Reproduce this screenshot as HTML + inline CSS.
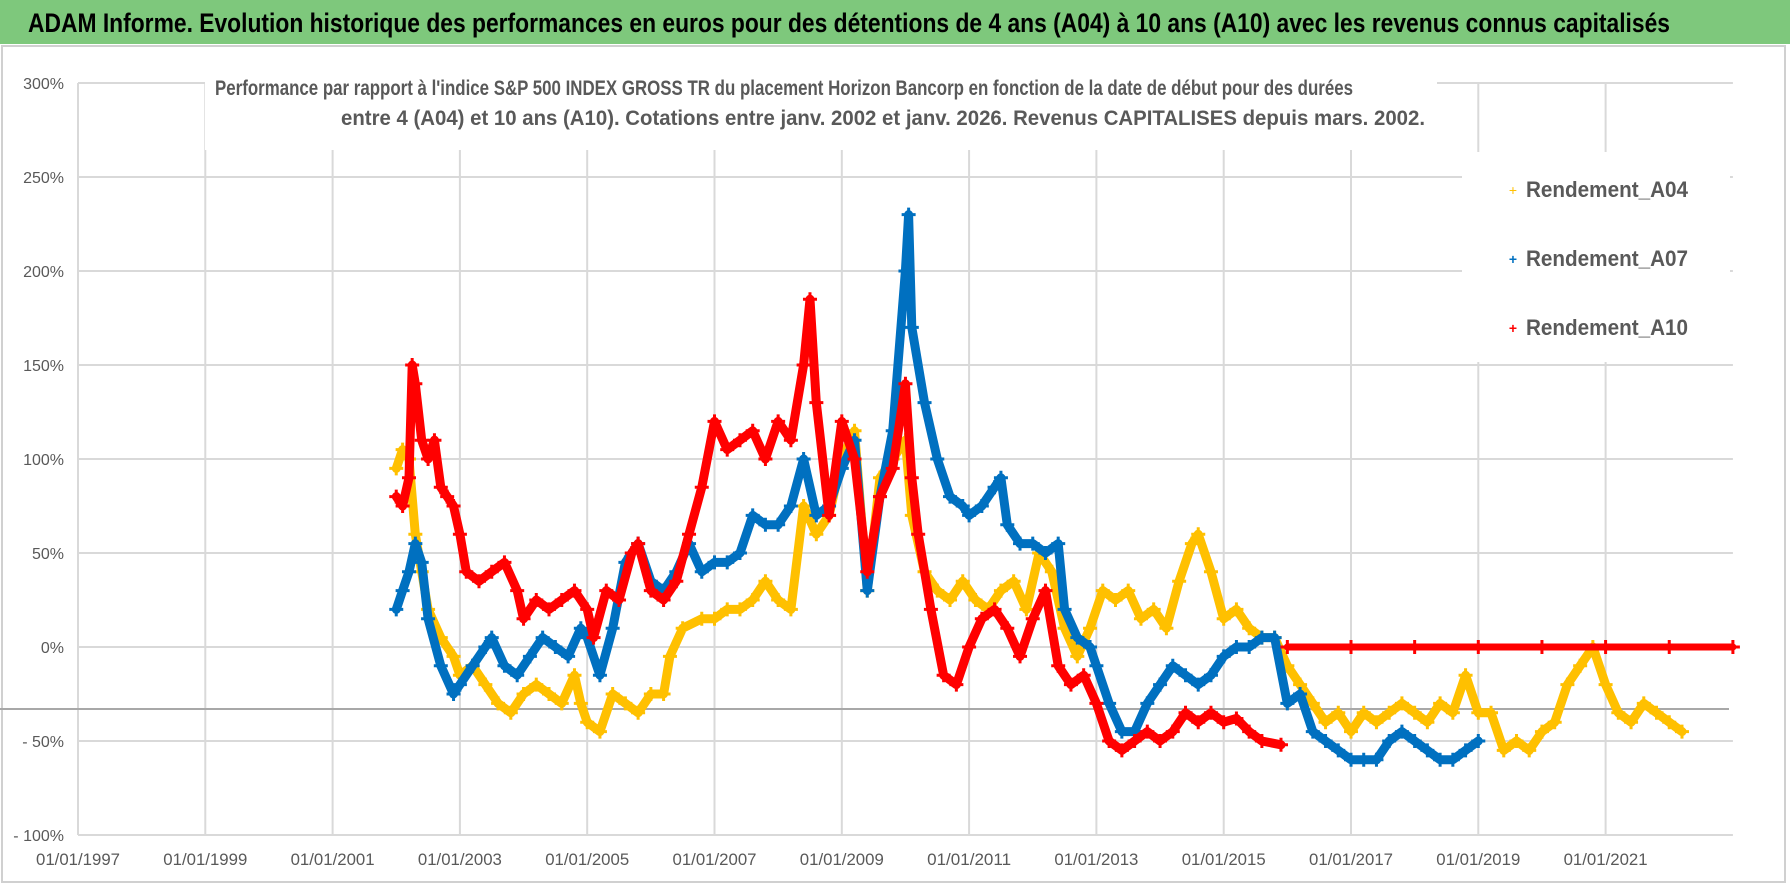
<!DOCTYPE html>
<html><head><meta charset="utf-8"><style>
html,body{margin:0;padding:0;background:#fff;}
svg{display:block;font-family:"Liberation Sans",sans-serif;}
</style></head><body>
<svg id="chart" width="1790" height="886" viewBox="0 0 1790 886" xmlns="http://www.w3.org/2000/svg">
<rect x="0" y="0" width="1790" height="886" fill="#fff"/>
<rect x="0" y="0" width="1790" height="44" fill="#7ec87c"/>
<text x="28" y="32" font-size="27" font-weight="bold" fill="#000" textLength="1642" lengthAdjust="spacingAndGlyphs">ADAM Informe. Evolution historique des performances en euros pour des détentions de 4 ans (A04) à 10 ans (A10) avec les revenus connus capitalisés</text>
<rect x="2" y="46" width="1783" height="836" fill="none" stroke="#d0d0d0" stroke-width="2"/>
<g id="grid"></g>
<line x1="0" y1="709" x2="1729" y2="709" stroke="#a8a8a8" stroke-width="2"/>
<rect x="205" y="68" width="1232" height="82" fill="#fff"/>
<text x="215" y="95" font-size="21" font-weight="bold" fill="#595959" textLength="1138" lengthAdjust="spacingAndGlyphs">Performance par rapport à l'indice S&amp;P 500 INDEX GROSS TR  du placement Horizon Bancorp en fonction de la date de début pour des durées</text>
<text x="341" y="125" font-size="21" font-weight="bold" fill="#595959" textLength="1084" lengthAdjust="spacingAndGlyphs">entre 4 (A04) et 10 ans (A10). Cotations entre janv. 2002 et janv. 2026. Revenus CAPITALISES depuis mars. 2002.</text>
<rect x="1462" y="152" width="268" height="210" fill="#fff"/>
<g id="series"></g>
<g id="axes"></g>
<g>
<g><text x="1513" y="195" font-size="14" fill="#ffc000" text-anchor="middle">+</text><text x="1526" y="197" font-size="22" font-weight="bold" fill="#595959" textLength="162" lengthAdjust="spacingAndGlyphs">Rendement_A04</text></g>
<g><text x="1513" y="264" font-size="14" font-weight="bold" fill="#0070c0" text-anchor="middle">+</text><text x="1526" y="266" font-size="22" font-weight="bold" fill="#595959" textLength="162" lengthAdjust="spacingAndGlyphs">Rendement_A07</text></g>
<g><text x="1513" y="333" font-size="14" font-weight="bold" fill="#ff0000" text-anchor="middle">+</text><text x="1526" y="335" font-size="22" font-weight="bold" fill="#595959" textLength="162" lengthAdjust="spacingAndGlyphs">Rendement_A10</text></g>
</g>
</svg>
<script>
const yTicks = [300, 250, 200, 150, 100, 50, 0, -50, -100];
const yTickLabels = ["300%", "250%", "200%", "150%", "100%", "50%", "0%", "- 50%", "- 100%"];
const xTicks = [1997, 1999, 2001, 2003, 2005, 2007, 2009, 2011, 2013, 2015, 2017, 2019, 2021];
const xTickLabels = ["01/01/1997","01/01/1999","01/01/2001","01/01/2003","01/01/2005","01/01/2007","01/01/2009","01/01/2011","01/01/2013","01/01/2015","01/01/2017","01/01/2019","01/01/2021"];

const datesA10 = [2002.0,2002.1,2002.2,2002.25,2002.3,2002.4,2002.5,2002.6,2002.7,2002.8,2002.9,2003.0,2003.1,2003.3,2003.5,2003.7,2003.9,2004.0,2004.2,2004.4,2004.6,2004.8,2005.0,2005.1,2005.3,2005.5,2005.7,2005.8,2006.0,2006.2,2006.4,2006.6,2006.8,2007.0,2007.2,2007.4,2007.6,2007.8,2008.0,2008.2,2008.4,2008.5,2008.6,2008.8,2009.0,2009.2,2009.4,2009.6,2009.8,2010.0,2010.1,2010.2,2010.4,2010.6,2010.8,2011.0,2011.2,2011.4,2011.6,2011.8,2012.0,2012.2,2012.4,2012.6,2012.8,2013.0,2013.2,2013.4,2013.6,2013.8,2014.0,2014.2,2014.4,2014.6,2014.8,2015.0,2015.2,2015.4,2015.6,2015.9];
const valuesA10 = [80,75,90,150,140,110,100,110,85,80,75,60,40,35,40,45,30,15,25,20,25,30,20,5,30,25,50,55,30,25,35,60,85,120,105,110,115,100,120,110,150,185,130,70,120,100,40,80,95,140,90,60,20,-15,-20,0,15,20,10,-5,15,30,-10,-20,-15,-30,-50,-55,-50,-45,-50,-45,-35,-40,-35,-40,-38,-45,-50,-52];
const datesA10Flat = [2016.0,2017,2018,2019,2020,2021,2022,2023];
const valuesA10Flat = [0,0,0,0,0,0,0,0];

const datesA07 = [2002.0,2002.1,2002.2,2002.3,2002.4,2002.5,2002.7,2002.9,2003.0,2003.2,2003.4,2003.5,2003.7,2003.9,2004.1,2004.3,2004.5,2004.7,2004.9,2005.0,2005.2,2005.4,2005.6,2005.8,2006.0,2006.2,2006.4,2006.6,2006.8,2007.0,2007.2,2007.4,2007.6,2007.8,2008.0,2008.2,2008.4,2008.6,2008.8,2009.0,2009.2,2009.4,2009.6,2009.8,2010.0,2010.05,2010.1,2010.3,2010.5,2010.7,2010.9,2011.0,2011.2,2011.4,2011.5,2011.6,2011.8,2012.0,2012.2,2012.4,2012.5,2012.7,2012.9,2013.0,2013.2,2013.4,2013.6,2013.8,2014.0,2014.2,2014.4,2014.6,2014.8,2015.0,2015.2,2015.4,2015.6,2015.8,2016.0,2016.2,2016.4,2016.6,2016.8,2017.0,2017.2,2017.4,2017.6,2017.8,2018.0,2018.2,2018.4,2018.6,2018.8,2019.0];
const valuesA07 = [20,30,40,55,45,15,-10,-25,-20,-10,0,5,-10,-15,-5,5,0,-5,10,5,-15,10,45,55,35,30,40,55,40,45,45,50,70,65,65,75,100,70,75,95,110,30,80,115,200,230,170,130,100,80,75,70,75,85,90,65,55,55,50,55,20,5,0,-10,-30,-45,-45,-30,-20,-10,-15,-20,-15,-5,0,0,5,5,-30,-25,-45,-50,-55,-60,-60,-60,-50,-45,-50,-55,-60,-60,-55,-50];

const datesA04 = [2002.0,2002.1,2002.2,2002.3,2002.4,2002.5,2002.7,2002.9,2003.0,2003.2,2003.4,2003.6,2003.8,2004.0,2004.2,2004.4,2004.6,2004.8,2004.9,2005.0,2005.2,2005.4,2005.6,2005.8,2006.0,2006.2,2006.3,2006.5,2006.8,2007.0,2007.2,2007.4,2007.6,2007.8,2008.0,2008.2,2008.4,2008.6,2008.8,2009.0,2009.2,2009.4,2009.6,2009.8,2010.0,2010.1,2010.3,2010.5,2010.7,2010.9,2011.1,2011.3,2011.5,2011.7,2011.9,2012.1,2012.3,2012.5,2012.7,2012.9,2013.1,2013.3,2013.5,2013.7,2013.9,2014.1,2014.3,2014.5,2014.6,2014.8,2015.0,2015.2,2015.4,2015.6,2015.8,2016.0,2016.2,2016.4,2016.6,2016.8,2017.0,2017.2,2017.4,2017.6,2017.8,2018.0,2018.2,2018.4,2018.6,2018.8,2019.0,2019.2,2019.4,2019.6,2019.8,2020.0,2020.2,2020.4,2020.6,2020.8,2021.0,2021.2,2021.4,2021.6,2021.8,2022.0,2022.2];
const valuesA04 = [95,105,100,60,40,20,5,-5,-15,-10,-20,-30,-35,-25,-20,-25,-30,-15,-30,-40,-45,-25,-30,-35,-25,-25,-5,10,15,15,20,20,25,35,25,20,75,60,70,100,115,30,90,100,110,70,40,30,25,35,25,20,30,35,20,50,40,10,-5,10,30,25,30,15,20,10,35,55,60,40,15,20,10,5,5,-10,-20,-30,-40,-35,-45,-35,-40,-35,-30,-35,-40,-30,-35,-15,-35,-35,-55,-50,-55,-45,-40,-20,-10,0,-20,-35,-40,-30,-35,-40,-45];

const NS = "http://www.w3.org/2000/svg";
const X0 = 78, XPY = 63.65, Y0 = 647, YPP = 1.88;
function xScale(yr){ return X0 + (yr - 1997) * XPY; }
function yScale(v){ return Y0 - v * YPP; }
const PL = xScale(1997), PR = xScale(2023);

const grid = document.getElementById('grid');
const axes = document.getElementById('axes');
yTicks.forEach((t, i) => {
  const l = document.createElementNS(NS, 'line');
  
  
  l.setAttribute('x1', PL); l.setAttribute('x2', PR);
  l.setAttribute('y1', yScale(t)); l.setAttribute('y2', yScale(t));
  l.setAttribute('stroke', '#d9d9d9'); l.setAttribute('stroke-width', 2);
  grid.appendChild(l);
  const tx = document.createElementNS(NS, 'text');
  
  
  tx.setAttribute('x', 64); tx.setAttribute('y', yScale(t) + 6);
  tx.setAttribute('text-anchor', 'end'); tx.setAttribute('font-size', '16'); tx.setAttribute('fill', '#595959');
  tx.textContent = yTickLabels[i];
  axes.appendChild(tx);
});
xTicks.forEach((t, i) => {
  const l = document.createElementNS(NS, 'line');
  
  
  l.setAttribute('x1', xScale(t)); l.setAttribute('x2', xScale(t));
  l.setAttribute('y1', 83); l.setAttribute('y2', yScale(-100));
  l.setAttribute('stroke', '#d9d9d9'); l.setAttribute('stroke-width', 2);
  grid.appendChild(l);
  const tx = document.createElementNS(NS, 'text');
  
  
  tx.setAttribute('x', xScale(t)); tx.setAttribute('y', 865);
  tx.setAttribute('text-anchor', 'middle'); tx.setAttribute('font-size', '17'); tx.setAttribute('fill', '#595959');
  tx.setAttribute('textLength', '84'); tx.setAttribute('lengthAdjust', 'spacingAndGlyphs');
  tx.textContent = xTickLabels[i];
  axes.appendChild(tx);
});

const seriesLayer = document.getElementById('series');
function drawSeries(dates, vals, color, name, width){
  const g = document.createElementNS(NS, 'g');
  
  
  const pts = dates.map((d, i) => xScale(d).toFixed(1) + ',' + yScale(vals[i]).toFixed(1)).join(' ');
  const pl = document.createElementNS(NS, 'polyline');
  
  
  pl.setAttribute('points', pts); pl.setAttribute('fill', 'none');
  pl.setAttribute('stroke', color); pl.setAttribute('stroke-width', width);
  pl.setAttribute('stroke-linejoin', 'round'); pl.setAttribute('stroke-linecap', 'round');
  g.appendChild(pl);
  dates.forEach((d, i) => {
    const x = xScale(d), y = yScale(vals[i]);
    const p = document.createElementNS(NS, 'path');
    
    
    p.setAttribute('d', `M${x-7},${y}H${x+7}M${x},${y-7}V${y+7}`);
    p.setAttribute('stroke', color); p.setAttribute('stroke-width', 3);
    g.appendChild(p);
  });
  seriesLayer.appendChild(g);
}
drawSeries(datesA04, valuesA04, '#ffc000', 'series-a04', 9);
drawSeries(datesA07, valuesA07, '#0070c0', 'series-a07', 9);
drawSeries(datesA10, valuesA10, '#ff0000', 'series-a10', 9);
drawSeries(datesA10Flat, valuesA10Flat, '#ff0000', 'series-a10-flat', 7);
</script>
</body></html>
